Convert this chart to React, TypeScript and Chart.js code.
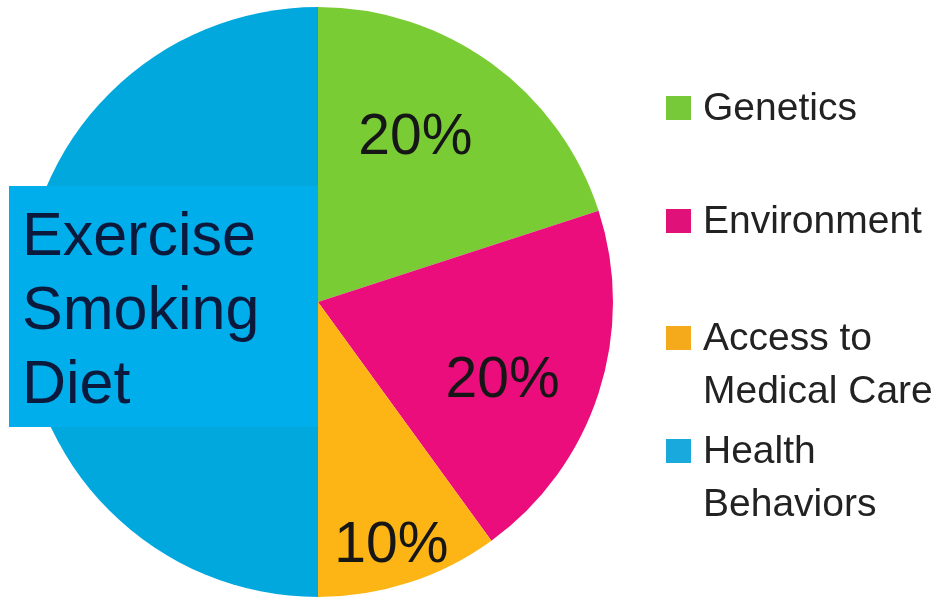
import React, { useEffect, useRef } from "react";
import { Chart, registerables } from "chart.js";

Chart.register(...registerables);

const categories = ["Genetics", "Environment", "Access to Medical Care", "Health Behaviors"];
const legendLines = [["Genetics"], ["Environment"], ["Access to", "Medical Care"], ["Health", "Behaviors"]];
const shares = [20, 20, 10, 50];
const sliceColors = ["#7acc35", "#ea0d7b", "#fdb515", "#00a8de"];
const legendColors = ["#77c93a", "#e0127a", "#f5aa1c", "#19a9dc"];
const boxLines = ["Exercise", "Smoking", "Diet"];

const FONT = "'Liberation Sans', Arial, Helvetica, sans-serif";

export default function App() {
  const ref = useRef<HTMLCanvasElement>(null);

  useEffect(() => {
    const canvas = ref.current;
    if (!canvas) return;

    const overlay = {
      id: "overlay",
      afterDatasetsDraw(chart: any) {
        const ctx = chart.ctx as CanvasRenderingContext2D;
        const meta = chart.getDatasetMeta(0);
        ctx.save();
        // percentage labels on slices
        const placement = [
          { r: 0.66, da: -6, size: 57 },
          { r: 0.675, da: 4, size: 57 },
          { r: 0.85, da: 1, size: 57 },
        ];
        shares.forEach((v, i) => {
          const p = placement[i];
          if (!p) return;
          const arc: any = meta.data[i];
          const mid = (arc.startAngle + arc.endAngle) / 2 + (p.da * Math.PI) / 180;
          const x = arc.x + Math.cos(mid) * arc.outerRadius * p.r;
          const y = arc.y + Math.sin(mid) * arc.outerRadius * p.r;
          ctx.font = `${p.size}px ${FONT}`;
          ctx.fillStyle = "#161616";
          ctx.textAlign = "center";
          ctx.textBaseline = "alphabetic";
          ctx.fillText(`${v}%`, x, y + p.size * 0.358);
        });

        // health-behaviors box
        const arc: any = meta.data[3];
        ctx.fillStyle = "#00aeec";
        ctx.fillRect(9, 186, arc.x - 9, 241);
        ctx.fillStyle = "#0b1a3c";
        ctx.font = `61px ${FONT}`;
        ctx.textAlign = "left";
        const bases = [255, 329, 403];
        boxLines.forEach((t, i) => ctx.fillText(t, 22, bases[i]));

        // legend
        const lx = 666;
        const tx = 703;
        const firstBase = [120, 233, 350, 463];
        const lineGap = 53;
        ctx.font = `39px ${FONT}`;
        legendLines.forEach((lines, i) => {
          const b = firstBase[i];
          ctx.fillStyle = legendColors[i];
          ctx.fillRect(lx, b - 24, 25, 24);
          ctx.fillStyle = "#222222";
          lines.forEach((t, j) => ctx.fillText(t, tx, b + j * lineGap));
        });
        ctx.restore();
      },
    };

    const chart = new Chart(canvas, {
      type: "pie",
      data: {
        labels: categories,
        datasets: [
          {
            data: shares,
            backgroundColor: sliceColors,
            borderWidth: 0,
          },
        ],
      },
      options: {
        responsive: false,
        animation: false,
        layout: { padding: { left: 23, top: 7, right: 328, bottom: 3 } },
        plugins: {
          legend: { display: false },
          tooltip: { enabled: false },
        },
      },
      plugins: [overlay],
    });
    return () => chart.destroy();
  }, []);

  return (
    <div style={{ position: "absolute", left: 0, top: 0, width: 941, height: 600, background: "#fff" }}>
      <canvas ref={ref} width={941} height={600} style={{ display: "block" }} />
    </div>
  );
}
